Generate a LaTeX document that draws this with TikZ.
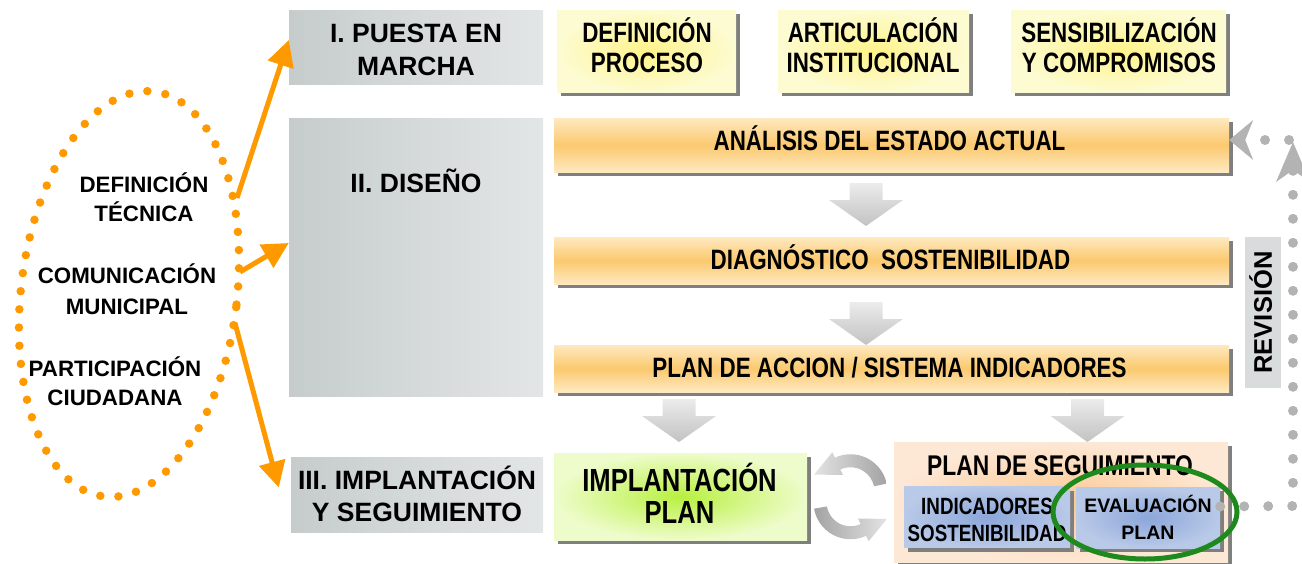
\documentclass[tikz,border=0pt]{standalone}
\usepackage{fontspec}
\setmainfont{Liberation Sans}
\newfontfamily\narrowf{Liberation Sans}[FakeStretch=0.8]
\usetikzlibrary{arrows.meta,shadows,calc}

\definecolor{orangeA}{HTML}{FF9900}
\definecolor{dotgray}{HTML}{B3B3B3}
\definecolor{shadowgray}{HTML}{7F7F7F}
\definecolor{hdrL}{HTML}{C6CCCC}
\definecolor{hdrR}{HTML}{E3E6E7}
\definecolor{yelIn}{HTML}{FFF38A}
\definecolor{yelOut}{HTML}{FDFBD2}
\definecolor{orgMid}{HTML}{FBC96F}
\definecolor{orgEdge}{HTML}{FEE9C0}
\definecolor{grnIn}{HTML}{B8F040}
\definecolor{grnOut}{HTML}{EEFCCB}
\definecolor{pchIn}{HTML}{FBC890}
\definecolor{pchOut}{HTML}{FDE8D6}
\definecolor{bluIn}{HTML}{8BA6D9}
\definecolor{bluOut}{HTML}{B9C9E8}
\definecolor{evalgreen}{HTML}{1E8A1E}
\definecolor{revgray}{HTML}{D9DCDC}

\newcommand{\grayblockarrow}[3]{%
  \shade[top color=gray!15, middle color=gray!70, bottom color=gray!48]
    (#1-16.5,#2) -- (#1+16.5,#2) -- (#1+16.5,#2+17) -- (#1+37,#2+17)
    -- (#1,#3) -- (#1-37,#2+17) -- (#1-16.5,#2+17) -- cycle;}

\tikzset{
  boxshadow/.style={general shadow={fill=shadowgray, shadow xshift=4pt, shadow yshift=-4pt}},
  hdr/.style={left color=hdrL, right color=hdrR, inner sep=0pt},
  yelbox/.style={boxshadow, inner color=yelIn, outer color=yelOut, inner sep=0pt, minimum height=82pt},
  orgbox/.style={boxshadow, top color=orgEdge, bottom color=orgEdge, middle color=orgMid,
    inner sep=0pt, minimum width=675pt},
  grnbox/.style={boxshadow, inner color=grnIn, outer color=grnOut, inner sep=0pt},
  pchbox/.style={boxshadow, inner color=pchIn, outer color=pchOut, inner sep=0pt},
  blubox/.style={boxshadow, inner color=bluIn, outer color=bluOut, inner sep=0pt, minimum height=61pt},
  revbox/.style={fill=revgray, inner sep=0pt, text height=17.5pt, text depth=0pt,
    font=\bfseries\fontsize{25.5}{25}\selectfont},
  % text styles: node centre = centre of the block of capitals
  % (argument = cap height + (lines-1) * line distance)
  hdrtxt/.style={align=center, inner sep=0pt, text height=#1, text depth=0pt,
    font=\bfseries\fontsize{26.5}{33}\selectfont},
  hdrtxt/.default=51.5pt,
  elltxt/.style={align=center, inner sep=0pt, text height=#1, text depth=0pt,
    font=\bfseries\fontsize{22.3}{29}\selectfont},
  elltxt/.default=45pt,
  boxtxt/.style={align=center, inner sep=0pt, text height=#1, text depth=0pt,
    font=\narrowf\bfseries\fontsize{28}{30}\selectfont},
  boxtxt/.default=49.5pt,
  grntxt/.style={align=center, inner sep=0pt, text height=54pt, text depth=0pt,
    font=\narrowf\bfseries\fontsize{32}{32}\selectfont},
  indtxt/.style={align=center, inner sep=0pt, text height=43.3pt, text depth=0pt,
    font=\narrowf\bfseries\fontsize{23.5}{27}\selectfont},
  evatxt/.style={align=center, inner sep=0pt, text height=40.5pt, text depth=0pt,
    font=\bfseries\fontsize{19.5}{27}\selectfont},
  orarrow/.style={orangeA, line width=5pt, -{Triangle[length=26pt,width=26pt]}},
  revdots/.style={dotgray, line width=10pt, line cap=round, dash pattern=on 0pt off 24pt}
}

\begin{document}
\begin{tikzpicture}[x=1pt,y=-1pt]
\useasboundingbox (0,0) rectangle (1302,563);

% left dotted ellipse
\draw[orangeA, line width=8.5pt, line cap=round, dash pattern=on 0pt off 18.2pt,
      rotate around={-7:(129,294)}] (129,294) ellipse [x radius=108, y radius=204];

\node[elltxt] (tdef) at (144,198.5) {DEFINICIÓN\\TÉCNICA};
\node[elltxt=47pt, font=\bfseries\fontsize{22.3}{31}\selectfont] (tcom) at (127,290.5) {COMUNICACIÓN\\MUNICIPAL};
\node[elltxt] (tpar) at (115,382.5) {PARTICIPACIÓN\\CIUDADANA};

% phase headers
\node[hdr, minimum width=254pt, minimum height=74pt] (g1) at (416,47) {};
\node[hdrtxt] (g1t) at (416,49.5) {I. PUESTA EN\\MARCHA};
\node[hdr, minimum width=254pt, minimum height=278pt] (g2) at (416,257) {};
\node[hdrtxt=18.5pt] (g2t) at (416,183) {II. DISEÑO};
\node[hdr, minimum width=252pt, minimum height=75pt] (g3) at (417,494.5) {};
\node[hdrtxt=50.5pt, font=\bfseries\fontsize{26.5}{32}\selectfont] (g3t) at (417,496) {III. IMPLANTACIÓN\\Y SEGUIMIENTO};

% orange arrows from ellipse
\coordinate (s1) at (237,198);
\coordinate (s2) at (240,272);
\coordinate (s3) at (235,323);
\draw[orarrow] (s1) -- ([yshift=7pt]g1.west);
\draw[orarrow] (s2) -- ([yshift=14pt]g2.west);
\draw[orarrow] (s3) -- ($(g3.west)+(-12,-7)$);

% top yellow boxes
\node[yelbox, minimum width=179pt] (y1) at (646.5,51) {};
\node[yelbox, minimum width=191pt] (y2) at (873.5,51) {};
\node[yelbox, minimum width=215pt] (y3) at (1118.5,51) {};
\node[boxtxt] (y1t) at (647,48) {DEFINICIÓN\\PROCESO};
\node[boxtxt] (y2t) at (873,48) {ARTICULACIÓN\\INSTITUCIONAL};
\node[boxtxt] (y3t) at (1119,48) {SENSIBILIZACIÓN\\Y COMPROMISOS};

% design boxes
\node[orgbox, minimum height=54pt] (o1) at (891.5,145) {};
\node[orgbox, minimum height=47pt] (o2) at (891.5,260.5) {};
\node[orgbox, minimum height=47pt] (o3) at (891.5,368.5) {};
\node[boxtxt=19.5pt] (o1t) at (889.5,141) {ANÁLISIS DEL ESTADO ACTUAL};
\node[boxtxt=19.5pt] (o2t) at (890.5,260) {DIAGNÓSTICO~ SOSTENIBILIDAD};
\node[boxtxt=19.5pt] (o3t) at (889.5,368) {PLAN DE ACCION / SISTEMA INDICADORES};

% gray block arrows
\grayblockarrow{866}{183}{226}
\grayblockarrow{866}{302}{345}
\grayblockarrow{679}{399}{442}
\grayblockarrow{1087.5}{399}{442}

% implementation
\node[grnbox, minimum width=253pt, minimum height=87pt] (impl) at (680.5,496.5) {};
\node[grntxt] (implt) at (679.5,496) {IMPLANTACIÓN\\PLAN};
\node[pchbox, minimum width=334pt, minimum height=120pt] (seg) at (1061,502) {};
\node[boxtxt=20pt, font=\narrowf\bfseries\fontsize{28.5}{30}\selectfont] (segt) at (1060,465) {PLAN DE SEGUIMIENTO};
\node[blubox, minimum width=166pt] (ind) at (987,517) {};
\node[indtxt] (indt) at (987,519.5) {INDICADORES\\SOSTENIBILIDAD};
\node[blubox, minimum width=144pt] (eva) at (1148,517.5) {};
\node[evatxt] (evat) at (1148,519.5) {EVALUACIÓN\\PLAN};

% circular arrows
\coordinate (cyc) at ($(impl.east)!0.5!(seg.west)$);
\coordinate (ct) at ($(cyc)+(0,-8)$);
\coordinate (cb) at ($(cyc)+(0,3)$);
\shade[left color=gray!22, right color=gray!72]
  ($(ct)+(-12:37)$) arc[start angle=-12, end angle=-115, radius=37]
  -- ($(ct)+(-115:43)$) -- ($(ct)+(-36.45,-16.64)$) -- ($(ct)+(-115:18)$)
  -- ($(ct)+(-115:24)$) arc[start angle=-115, end angle=-12, radius=24] -- cycle;
\shade[left color=gray!72, right color=gray!22]
  ($(cb)+(170:37)$) arc[start angle=170, end angle=65, radius=37]
  -- ($(cb)+(65:43)$) -- ($(cb)+(36.45,16.64)$) -- ($(cb)+(65:18)$)
  -- ($(cb)+(65:24)$) arc[start angle=65, end angle=170, radius=24] -- cycle;

% revision
\node[revbox, rotate=90, minimum width=151pt, minimum height=36pt] (rev) at (1263,312.5) {REVISIÓN};
\coordinate (r1) at (1293,506);
\coordinate (r2) at (1293,142);
\coordinate (r3) at (1289,140);
\draw[revdots, -{Stealth[length=40pt,width=34pt,inset=12pt,line width=0pt]}] ([yshift=11pt]eva.east) -- (r1) -- (r2);
\draw[revdots, -{Stealth[length=24pt,width=40pt,inset=8pt,line width=0pt]}] (r3) -- ([yshift=5pt]o1.east);

% highlight
\draw[evalgreen, line width=5pt] (1145,512) ellipse [x radius=92, y radius=47];
\end{tikzpicture}
\end{document}
